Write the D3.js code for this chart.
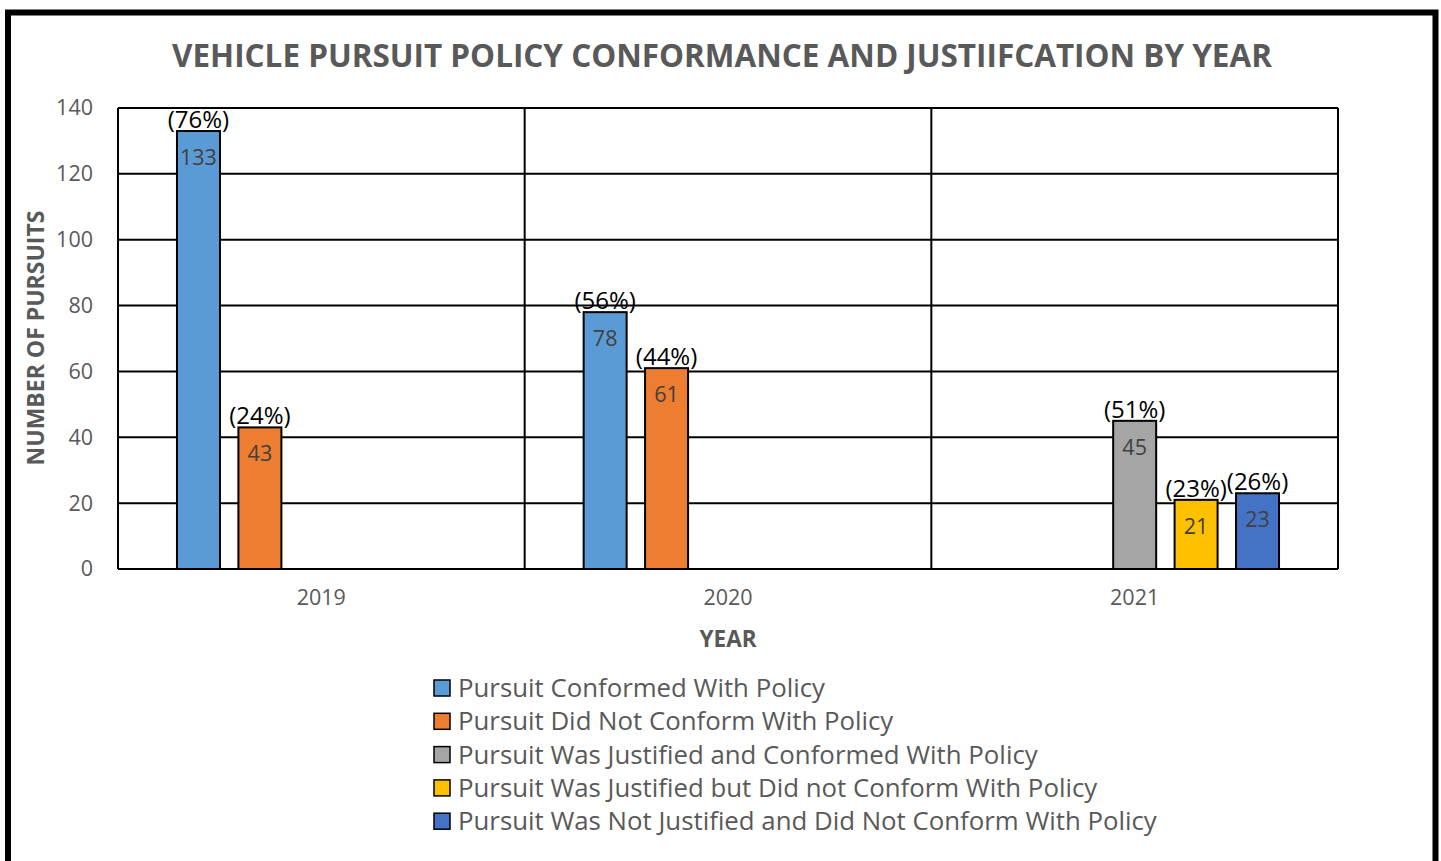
<!DOCTYPE html>
<html>
<head>
<meta charset="utf-8">
<script src="https://cdn.jsdelivr.net/npm/d3@7"></script>
<style>
  body { margin: 0; background: #fff; }
  svg { display: block; font-family: "Open Sans", "Noto Sans", sans-serif; }
</style>
</head>
<body>
<div class="pursuitChart"></div>
<script>
// data
const years = ["2019", "2020", "2021"];
const seriesNames = [
  "Pursuit Conformed With Policy",
  "Pursuit Did Not Conform With Policy",
  "Pursuit Was Justified and Conformed With Policy",
  "Pursuit Was Justified but Did not Conform With Policy",
  "Pursuit Was Not Justified and Did Not Conform With Policy"
];
const seriesColors = ["#5B9BD5", "#ED7D31", "#A5A5A5", "#FFC000", "#4472C4"];
// null = no bar for that year
const counts = [
  [133, 43, null, null, null],
  [78, 61, null, null, null],
  [null, null, 45, 21, 23]
];
const percents = [
  ["76%", "24%", null, null, null],
  ["56%", "44%", null, null, null],
  [null, null, "51%", "23%", "26%"]
];
const yTicks = [0, 20, 40, 60, 80, 100, 120, 140];

const W = 1441, H = 861;
const margin = {top: 108, right: 103, bottom: 292, left: 118};
const width = W - margin.left - margin.right;
const height = H - margin.top - margin.bottom;

const svg = d3.select(".pursuitChart").append("svg")
  .attr("width", W)
  .attr("height", H);

// outer frame (bottom edge runs off the page)
svg.append("path")
  .attr("d", "M8," + (H + 10) + " V12.5 H1435.5 V" + (H + 10))
  .attr("fill", "none")
  .attr("stroke", "#000")
  .attr("stroke-width", 6);

// fit a text element to a target width by adjusting font-size
function fit(sel, target) {
  const node = sel.node();
  const fs = parseFloat(sel.attr("font-size"));
  const w = node.getComputedTextLength();
  sel.attr("font-size", (fs * target / w).toFixed(2));
}

const title = svg.append("text")
  .attr("x", 722)
  .attr("y", 67)
  .attr("text-anchor", "middle")
  .attr("font-size", 28)
  .attr("font-weight", "bold")
  .attr("fill", "#595959")
  .text("VEHICLE PURSUIT POLICY CONFORMANCE AND JUSTIIFCATION BY YEAR");
fit(title, 1100);

const g = svg.append("g")
  .attr("transform", "translate(" + margin.left + "," + margin.top + ")");

const x0 = d3.scaleBand()
  .domain(years)
  .range([0, width])
  .padding(0);

const x1 = d3.scaleBand()
  .domain(d3.range(seriesNames.length))
  .range([0, x0.bandwidth()])
  .paddingInner(0.3)
  .paddingOuter(0.96);

const y = d3.scaleLinear()
  .domain([0, 140])
  .range([height, 0]);

// horizontal gridlines
g.append("g")
  .selectAll("line")
  .data(yTicks)
  .enter().append("line")
  .attr("x1", 0)
  .attr("x2", width)
  .attr("y1", d => y(d))
  .attr("y2", d => y(d))
  .attr("stroke", "#000")
  .attr("stroke-width", 2);

// vertical category dividers + plot border
g.append("g")
  .selectAll("line")
  .data(years.map(d => x0(d)).concat([width]))
  .enter().append("line")
  .attr("x1", d => d)
  .attr("x2", d => d)
  .attr("y1", 0)
  .attr("y2", height)
  .attr("stroke", "#000")
  .attr("stroke-width", 2);

// y axis labels
const yAxis = g.append("g")
  .attr("transform", "translate(-22,0)")
  .call(d3.axisLeft(y).tickValues(yTicks).tickSize(0));
yAxis.select(".domain").remove();
yAxis.selectAll("text")
  .attr("font-family", "'Open Sans', sans-serif")
  .attr("font-size", 21.5)
  .attr("fill", "#595959");

// x axis labels
const xAxis = g.append("g")
  .attr("transform", "translate(0," + (height + 18) + ")")
  .call(d3.axisBottom(x0).tickSize(0));
xAxis.select(".domain").remove();
xAxis.selectAll("text")
  .attr("font-family", "'Open Sans', sans-serif")
  .attr("font-size", 21.5)
  .attr("fill", "#595959");

// bars
const rows = [];
years.forEach((yr, i) => {
  counts[i].forEach((v, s) => {
    if (v !== null) rows.push({year: yr, s: s, value: v, pct: percents[i][s]});
  });
});

const bars = g.append("g").selectAll("g")
  .data(rows)
  .enter().append("g")
  .attr("transform", d => "translate(" + (x0(d.year) + x1(d.s)) + ",0)");

bars.append("rect")
  .attr("x", 0)
  .attr("y", d => y(d.value))
  .attr("width", x1.bandwidth())
  .attr("height", d => height - y(d.value))
  .attr("fill", d => seriesColors[d.s])
  .attr("stroke", "#000")
  .attr("stroke-width", 2);

bars.append("text")
  .attr("x", x1.bandwidth() / 2)
  .attr("y", d => y(d.value) + 34)
  .attr("text-anchor", "middle")
  .attr("font-size", 21.5)
  .attr("fill", "#404040")
  .text(d => d.value);

bars.append("text")
  .attr("x", x1.bandwidth() / 2)
  .attr("y", d => y(d.value) - 3)
  .attr("text-anchor", "middle")
  .attr("font-size", 24)
  .attr("fill", "#000")
  .text(d => "(" + d.pct + ")");

// axis titles
svg.append("text")
  .attr("transform", "translate(44,338) rotate(-90)")
  .attr("text-anchor", "middle")
  .attr("font-size", 23)
  .attr("font-weight", "bold")
  .attr("fill", "#595959")
  .text("NUMBER OF PURSUITS");

svg.append("text")
  .attr("x", 728)
  .attr("y", 647)
  .attr("text-anchor", "middle")
  .attr("font-size", 22.5)
  .attr("font-weight", "bold")
  .attr("fill", "#595959")
  .text("YEAR");

// legend
const legend = svg.append("g")
  .attr("transform", "translate(434,680)")
  .selectAll("g")
  .data(seriesNames)
  .enter().append("g")
  .attr("transform", (d, i) => "translate(0," + (i * 33.3) + ")");

legend.append("rect")
  .attr("width", 16)
  .attr("height", 16)
  .attr("fill", (d, i) => seriesColors[i])
  .attr("stroke", "#000")
  .attr("stroke-width", 1.5);

legend.append("text")
  .attr("x", 24)
  .attr("y", 17)
  .attr("font-size", 25.8)
  .attr("fill", "#595959")
  .text(d => d);
</script>
</body>
</html>
